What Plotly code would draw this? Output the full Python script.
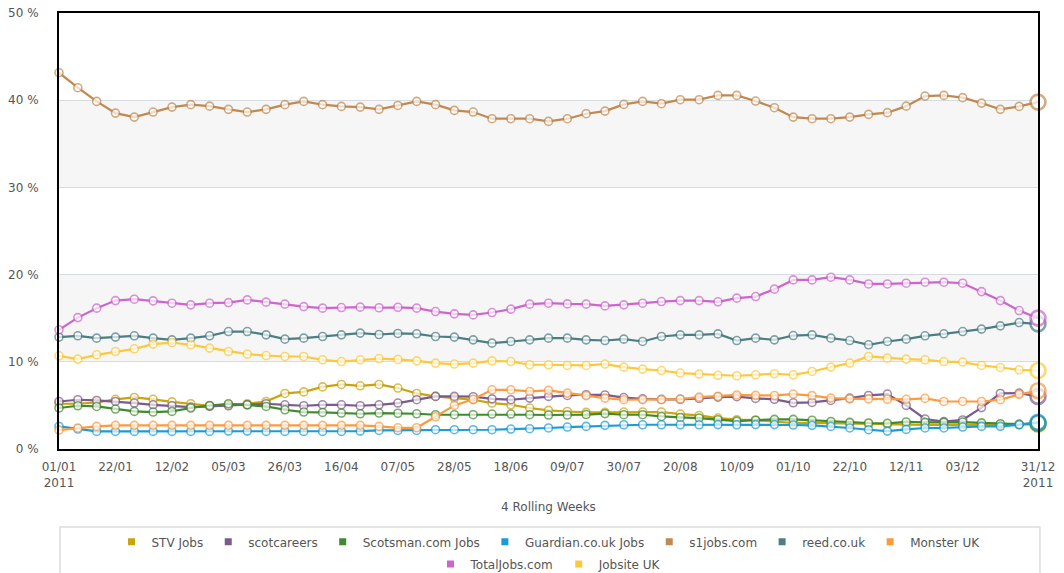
import pandas as pd
import plotly.graph_objects as go

# ---- data (percent share, 4 rolling weeks, weekly points 01/01/2011 .. 31/12/2011) ----
dates = pd.date_range("2011-01-01", periods=53, freq="7D")

stv = [5.19, 5.19, 5.34, 5.7, 5.91, 5.7, 5.4, 5.19, 4.96, 5.07, 5.19, 5.45, 6.37, 6.55, 7.12, 7.4,
       7.25, 7.4, 6.99, 6.37, 6.03, 5.84, 5.65, 5.27, 5.07, 4.7, 4.43, 4.3, 4.2, 4.2, 4.24, 4.24,
       4.24, 4.01, 3.85, 3.55, 3.36, 3.3, 3.16, 2.98, 3.0, 2.95, 2.9, 2.85, 2.8, 2.78, 2.75, 2.75,
       2.75, 2.8, 2.8, 2.8, 2.85]
scotcareers = [5.45, 5.65, 5.57, 5.45, 5.27, 5.07, 4.96, 4.81, 4.88, 4.96, 5.07, 5.19, 5.07, 4.96,
               5.07, 5.07, 4.96, 5.07, 5.27, 5.65, 6.03, 6.03, 6.0, 5.75, 5.65, 5.84, 6.03, 6.14,
               6.22, 6.2, 5.9, 5.75, 5.7, 5.7, 5.8, 5.95, 6.0, 5.8, 5.7, 5.3, 5.34, 5.57, 5.84,
               6.14, 6.3, 5.0, 3.44, 3.14, 3.33, 4.75, 6.37, 6.41, 6.03]
scotsman = [4.7, 4.96, 4.88, 4.58, 4.31, 4.24, 4.31, 4.7, 4.99, 5.19, 5.07, 4.88, 4.5, 4.24, 4.19,
            4.12, 4.04, 4.12, 4.1, 4.04, 3.93, 3.93, 3.93, 4.01, 4.01, 3.93, 3.9, 3.9, 3.95, 4.05,
            3.93, 3.93, 3.73, 3.62, 3.55, 3.36, 3.2, 3.3, 3.4, 3.4, 3.3, 3.16, 3.05, 2.98, 2.95,
            3.1, 3.05, 3.05, 3.09, 3.0, 2.9, 2.85, 2.95]
guardian = [2.59, 2.29, 2.02, 2.02, 2.02, 2.02, 2.02, 2.02, 2.02, 2.05, 2.05, 2.02, 2.02, 2.02,
            2.02, 2.02, 2.05, 2.13, 2.13, 2.13, 2.21, 2.21, 2.21, 2.21, 2.29, 2.33, 2.41, 2.52,
            2.59, 2.71, 2.78, 2.78, 2.78, 2.78, 2.78, 2.8, 2.78, 2.8, 2.8, 2.75, 2.71, 2.59, 2.41,
            2.21, 2.05, 2.25, 2.41, 2.41, 2.52, 2.59, 2.6, 2.78, 3.05]
s1jobs = [43.15, 41.43, 39.86, 38.52, 38.06, 38.64, 39.21, 39.49, 39.32, 38.95, 38.64, 38.95, 39.49,
          39.86, 39.49, 39.29, 39.21, 38.95, 39.4, 39.86, 39.49, 38.83, 38.64, 37.88, 37.88, 37.88,
          37.57, 37.88, 38.45, 38.75, 39.52, 39.86, 39.6, 40.06, 40.06, 40.55, 40.55, 39.9, 39.14,
          38.06, 37.88, 37.88, 38.06, 38.37, 38.57, 39.32, 40.47, 40.55, 40.29, 39.67, 38.95,
          39.29, 39.78]
reed = [12.83, 12.98, 12.71, 12.83, 12.98, 12.71, 12.52, 12.71, 12.98, 13.47, 13.47, 13.09, 12.6,
        12.71, 12.9, 13.09, 13.29, 13.13, 13.25, 13.21, 12.9, 12.83, 12.52, 12.14, 12.33, 12.52,
        12.71, 12.71, 12.52, 12.44, 12.6, 12.33, 12.9, 13.09, 13.09, 13.2, 12.44, 12.71, 12.52,
        13.01, 13.09, 12.71, 12.44, 11.95, 12.33, 12.6, 12.98, 13.21, 13.47, 13.75, 14.12, 14.5,
        14.35]
monster = [2.17, 2.41, 2.59, 2.71, 2.71, 2.71, 2.71, 2.71, 2.71, 2.71, 2.71, 2.71, 2.71, 2.71,
           2.71, 2.71, 2.71, 2.59, 2.43, 2.43, 3.7, 5.0, 5.7, 6.79, 6.79, 6.6, 6.72, 6.41, 6.11,
           5.84, 5.65, 5.65, 5.65, 5.73, 5.96, 6.05, 6.2, 6.15, 6.14, 6.3, 6.12, 5.84, 5.75, 5.75,
           5.7, 5.7, 5.8, 5.45, 5.45, 5.45, 5.65, 6.26, 6.68]
totaljobs = [13.67, 15.07, 16.15, 17.02, 17.18, 16.99, 16.72, 16.53, 16.72, 16.79, 17.1, 16.84,
             16.61, 16.33, 16.15, 16.22, 16.27, 16.2, 16.25, 16.15, 15.76, 15.5, 15.38, 15.65,
             16.04, 16.61, 16.72, 16.64, 16.61, 16.41, 16.53, 16.72, 16.91, 17.02, 17.02, 16.88,
             17.3, 17.48, 18.33, 19.39, 19.39, 19.7, 19.39, 18.93, 18.93, 19.01, 19.13, 19.13,
             19.01, 18.05, 17.02, 15.88, 15.01]
jobsite = [10.69, 10.31, 10.8, 11.18, 11.49, 12.03, 12.21, 11.95, 11.57, 11.18, 10.88, 10.72,
           10.61, 10.61, 10.23, 10.03, 10.23, 10.37, 10.27, 10.11, 9.85, 9.74, 9.85, 10.11, 10.03,
           9.66, 9.66, 9.58, 9.58, 9.74, 9.39, 9.16, 9.0, 8.71, 8.59, 8.45, 8.4, 8.51, 8.63, 8.51,
           8.89, 9.39, 9.85, 10.61, 10.42, 10.31, 10.23, 10.03, 9.97, 9.58, 9.35, 9.08, 9.0]

series_names = ["STV Jobs", "scotcareers", "Scotsman.com Jobs", "Guardian.co.uk Jobs",
                "s1jobs.com", "reed.co.uk", "Monster UK", "TotalJobs.com", "Jobsite UK"]
series_values = [stv, scotcareers, scotsman, guardian, s1jobs, reed, monster, totaljobs, jobsite]
series_colors = ["#c9a40c", "#7b5a8d", "#3f8a2f", "#1a9cd8", "#c1894f",
                 "#4b7e85", "#fb9a3e", "#cc66cc", "#fdc93a"]

tick_idx = [0, 3, 6, 9, 12, 15, 18, 21, 24, 27, 30, 33, 36, 39, 42, 45, 48, 52]
tick_labels = ["01/01<br>2011", "22/01", "12/02", "05/03", "26/03", "16/04", "07/05", "28/05",
               "18/06", "09/07", "30/07", "20/08", "10/09", "01/10", "22/10", "12/11", "03/12",
               "31/12<br>2011"]
y_ticks = [0, 10, 20, 30, 40, 50]

FONT = "DejaVu Sans"
TXT = "#555555"

fig = go.Figure()
n = len(dates)
sizes = [8] * (n - 1) + [15]
widths = [1.6] * (n - 1) + [2.6]

for name, vals, col in zip(series_names, series_values, series_colors):
    fig.add_trace(go.Scatter(
        x=dates, y=vals, mode="lines+markers", name=name, showlegend=False,
        line=dict(color=col, width=2.2),
        marker=dict(symbol="circle", size=sizes, color="white",
                    line=dict(color=col, width=widths)),
        cliponaxis=False,
    ))

# legend entries (square swatches)
for i, (name, col) in enumerate(zip(series_names, series_colors)):
    fig.add_trace(go.Scatter(
        x=[None], y=[None], mode="markers", name=name,
        marker=dict(symbol="square", size=7, color=col),
        legend="legend" if i < 7 else "legend2",
    ))

# background bands
for lo, hi in [(10, 20), (30, 40)]:
    fig.add_shape(type="rect", xref="paper", yref="y", x0=0, x1=1, y0=lo, y1=hi,
                  fillcolor="#f6f6f6", line_width=0, layer="below")

# legend frame
fig.add_shape(type="rect", xref="paper", yref="paper", x0=0.001, x1=1.002, y0=-0.32, y1=-0.179,
              line=dict(color="#dddddd", width=1.5), fillcolor="rgba(0,0,0,0)")

fig.update_layout(
    width=1064, height=573,
    margin=dict(l=59, r=26, t=13, b=124, autoexpand=False),
    paper_bgcolor="white", plot_bgcolor="white",
    font=dict(family=FONT, size=12, color=TXT),
    legend=dict(orientation="h", x=0.5, xanchor="center", y=-0.213, yanchor="middle",
                font=dict(family=FONT, size=12, color=TXT), itemwidth=30,
                bgcolor="rgba(0,0,0,0)", tracegroupgap=0),
    legend2=dict(orientation="h", x=0.5, xanchor="center", y=-0.264, yanchor="middle",
                 font=dict(family=FONT, size=12, color=TXT), itemwidth=30,
                 bgcolor="rgba(0,0,0,0)"),
    showlegend=True,
)

fig.update_xaxes(
    type="date", range=[dates[0], dates[-1]],
    tickvals=[dates[i] for i in tick_idx], ticktext=tick_labels,
    showgrid=False, showline=True, linecolor="black", linewidth=2, mirror=True,
    ticks="", ticklabelstandoff=6, zeroline=False, automargin=False,
    tickfont=dict(family=FONT, size=12, color=TXT),
    title=dict(text="4 Rolling Weeks", standoff=14, font=dict(family=FONT, size=12, color=TXT)),
)
fig.update_yaxes(
    range=[0, 50], tickvals=y_ticks, ticktext=[f"{v} %" for v in y_ticks],
    showgrid=True, gridcolor="#d5dbe0", gridwidth=1,
    showline=True, linecolor="black", linewidth=2, mirror=True,
    ticks="", ticklabelstandoff=16, zeroline=False, automargin=False,
    tickfont=dict(family=FONT, size=12, color=TXT),
)

fig.write_html("out.html", config={"displayModeBar": False},
               post_script="document.body.style.margin='0';")
